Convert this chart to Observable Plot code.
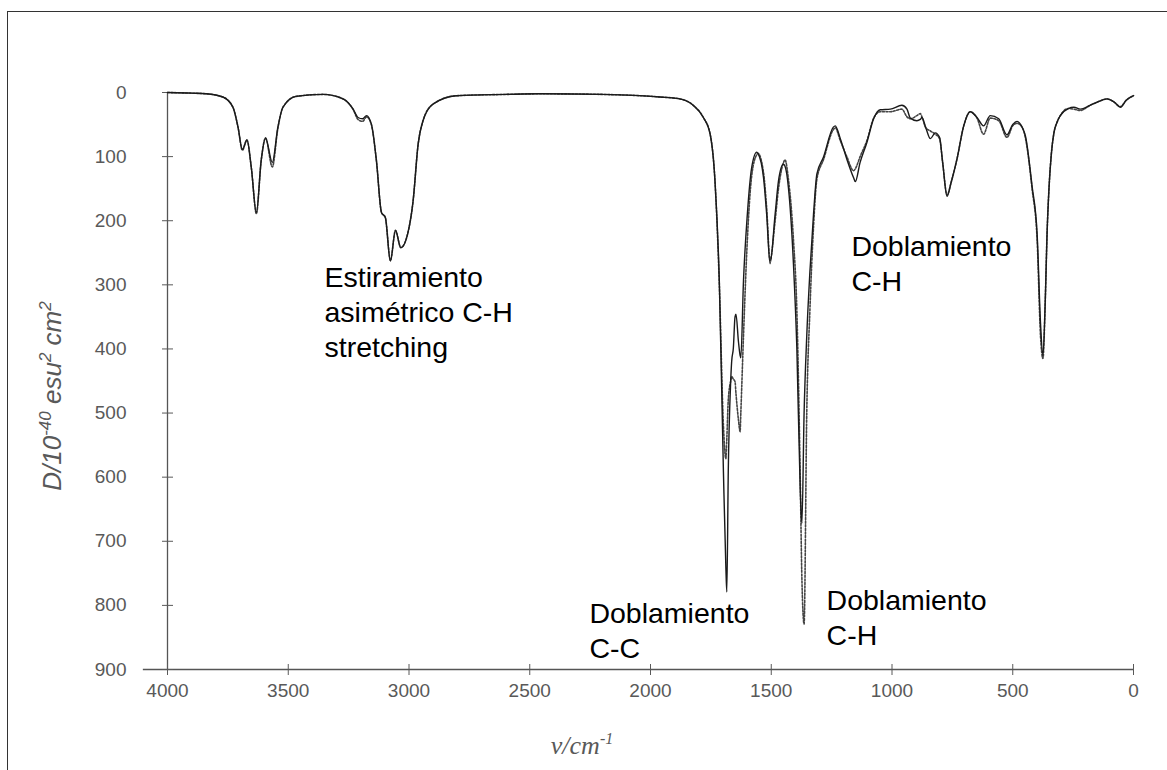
<!DOCTYPE html>
<html><head><meta charset="utf-8">
<script src="https://cdn.jsdelivr.net/npm/d3@7"></script>
<script src="https://cdn.jsdelivr.net/npm/@observablehq/plot@0.6"></script>
<style>
html,body{margin:0;padding:0;background:#fff;overflow:hidden;width:1167px;height:770px;}
#frame{position:absolute;left:7px;top:11px;width:1200px;height:800px;border-left:1.4px solid #333;border-top:1.4px solid #333;}
#chart{position:absolute;left:0;top:0;}
</style></head>
<body><div id="frame"></div><div id="chart"></div>
<script>
// wavenumber (cm^-1), descending
const wavenumber = [4000,3900,3840,3771,3729,3708,3690,3671,3653,3632,3612,3594,3566,3543,3522,3467,3356,3273,3231,3211,3192,3176,3156,3135,3114,3098,3077,3056,3034,3000,2983,2962,2942,2900,2803,2600,2458,2200,1961,1878,1823,1781,1753,1733,1715,1698,1688,1684,1678,1668,1664,1657,1650,1646,1636,1629,1626,1615,1599,1581,1560,1555,1532,1519,1505,1484,1470,1450,1443,1429,1408,1394,1380,1373,1364,1353,1340,1325,1311,1284,1243,1235,1214,1187,1159,1152,1132,1104,1076,1049,1007,959,938,924,897,883,876,860,841,821,803,790,772,755,731,703,676,648,621,593,558,524,500,482,460,448,420,399,385,375,365,358,350,340,330,315,303,270,247,220,180,150,109,80,54,30,0];
// solid curve: D / 10^-40 esu^2 cm^2
const solidD = [0,1,2,7,23,54,89,74,117,187,106,71,109,54,23,6,3,10,26,39,41,36,49,106,187,195,263,215,242,211,169,80,44,18,5,3,2,3,7,10,20,39,65,138,294,592,740,779,592,451,420,399,350,346,388,410,414,294,190,117,93,95,133,190,267,190,138,112,115,148,268,399,620,672,500,380,280,190,127,101,54,52,72,104,133,139,109,78,41,27,26,20,26,40,44,42,39,55,72,63,70,110,162,140,104,52,30,39,52,36,41,66,50,45,55,67,146,221,360,410,320,221,150,95,64,45,36,25,23,26,20,15,10,15,23,12,5];
// dotted curve
const dottedD = [0,1,2,7,23,54,90,74,117,189,106,71,116,56,23,6,3,10,27,42,45,38,50,106,187,195,262,215,242,211,169,80,44,18,5,3,2,3,7,10,20,39,65,138,300,520,571,540,480,450,443,447,451,470,510,529,500,380,230,130,97,95,125,180,262,200,150,110,105,135,230,340,600,760,829,500,340,210,135,105,58,55,75,100,122,119,100,75,40,30,30,26,38,41,36,33,38,55,60,65,72,110,160,140,104,52,30,40,65,40,44,70,52,48,55,70,150,230,380,415,320,221,150,95,64,45,36,25,26,28,20,15,10,15,22,12,5];

const xTicks = [4000,3500,3000,2500,2000,1500,1000,500,0];
const yTicks = [0,100,200,300,400,500,600,700,800,900];

const annotationText = ["Estiramiento\nasimétrico C-H\nstretching","Doblamiento\nC-H","Doblamiento\nC-C","Doblamiento\nC-H"];
const annotationX = [3350,1168,2253,1271];
const annotationY = [265,216,789,769];

const rows = wavenumber.map((w,i)=>({w, solid: solidD[i], dotted: dottedD[i]}));
const notes = annotationText.map((t,i)=>({t, x: annotationX[i], y: annotationY[i]}));

const gray = "#595959";
const chart = Plot.plot({
  width: 1167, height: 770,
  marginLeft: 167, marginRight: 34, marginTop: 92, marginBottom: 101,
  x: {domain: [4000, 0]},
  y: {domain: [0, 900], reverse: true},
  style: {fontFamily: "'Liberation Sans', Arial, sans-serif", fontSize: "19px", background: "transparent", overflow: "visible"},
  marks: [
    Plot.ruleY([900], {x1: 4100, x2: 0, stroke: "#555", strokeWidth: 1.3}),
    Plot.ruleX([4000], {y1: 0, y2: 900, stroke: "#555", strokeWidth: 1.3}),
    Plot.axisX(xTicks, {anchor: "bottom", tickSize: 11, dy: -5, tickPadding: 8, color: gray, tickFormat: d3.format("d"), label: null}),
    Plot.axisY(yTicks, {anchor: "left", tickSize: 11, dx: 6, tickPadding: 36, color: gray, tickFormat: d3.format("d"), label: null}),
    Plot.line(rows, {x: "w", y: "dotted", curve: "monotone-x", stroke: "#444", strokeWidth: 1.6, strokeDasharray: "2,1.6"}),
    Plot.line(rows, {x: "w", y: "solid", curve: "monotone-x", stroke: "#1a1a1a", strokeWidth: 1.4}),
    Plot.text(notes, {x: "x", y: "y", text: "t", textAnchor: "start", lineAnchor: "top", lineHeight: 1.23, fontSize: 28.5, fill: "#000"})
  ]
});
document.getElementById("chart").appendChild(chart);

const svg = d3.select(chart);

// y-axis title
const yt = svg.append("text")
  .attr("transform", "translate(61,396) rotate(-90)")
  .attr("text-anchor", "middle")
  .attr("font-style", "italic")
  .attr("font-size", 26)
  .attr("fill", gray);
yt.append("tspan").text("D/10");
yt.append("tspan").attr("dy", -10).attr("font-size", 17).text("-40");
yt.append("tspan").attr("dy", 10).text(" esu");
yt.append("tspan").attr("dy", -10).attr("font-size", 17).text("2");
yt.append("tspan").attr("dy", 10).text(" cm");
yt.append("tspan").attr("dy", -10).attr("font-size", 17).text("2");

// x-axis title
const xt = svg.append("text")
  .attr("transform", "translate(582,754)")
  .attr("text-anchor", "middle")
  .attr("font-family", "'Liberation Serif', 'Times New Roman', serif")
  .attr("font-style", "italic")
  .attr("font-size", 26)
  .attr("fill", gray);
xt.append("tspan").text("ν/cm");
xt.append("tspan").attr("dy", -10).attr("font-size", 16).text("-1");
</script>
</body></html>
